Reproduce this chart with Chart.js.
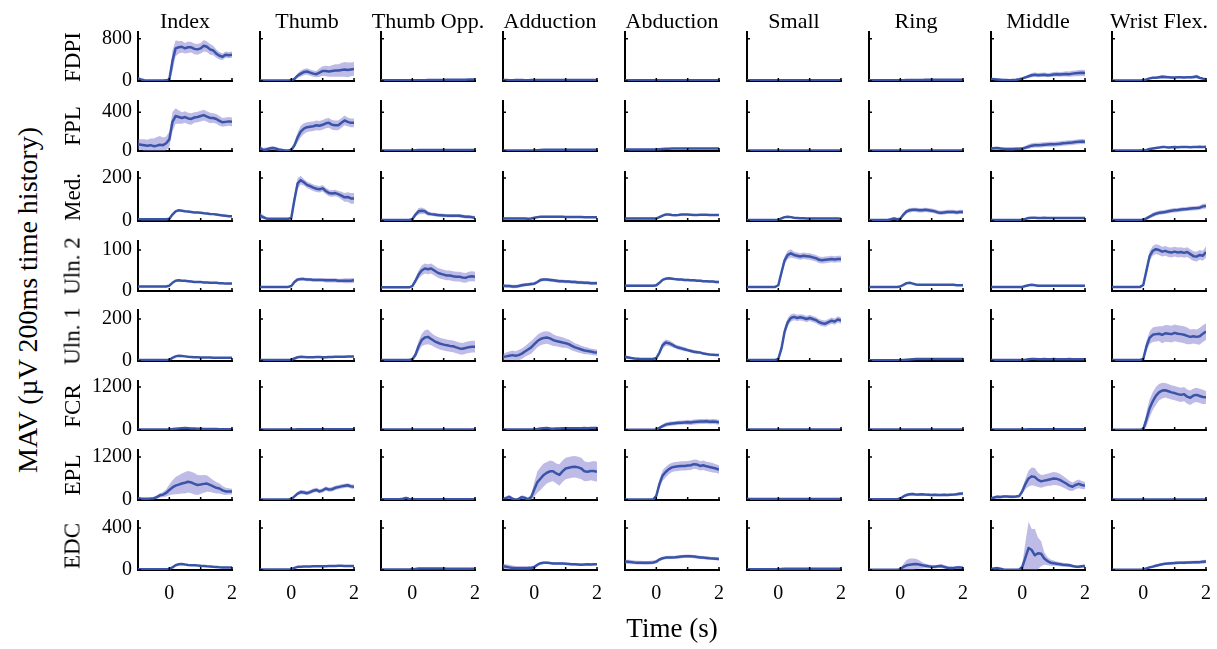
<!DOCTYPE html>
<html>
<head>
<meta charset="utf-8">
<script src="https://cdn.jsdelivr.net/npm/chart.js@4/dist/chart.umd.min.js"></script>
<style>
  html, body { margin: 0; padding: 0; background: #fff; }
  #fig { position: relative; width: 1217px; height: 649px; overflow: hidden;
         font-family: 'Liberation Serif', 'Times New Roman', serif; color: #000; }
  #fig canvas { position: absolute; }
  .lbl { position: absolute; white-space: nowrap; line-height: 1; }
</style>
</head>
<body>
<div id="fig"></div>
<script>
// ---- categories, ticks ----
const TIME = [-1,-0.9,-0.8,-0.7,-0.6,-0.5,-0.4,-0.3,-0.2,-0.1,0,0.1,0.2,0.3,0.4,0.5,0.6,0.7,0.8,0.9,1,1.1,1.2,1.3,1.4,1.5,1.6,1.7,1.8,1.9,2];
const MOVEMENTS = ['Index','Thumb','Thumb Opp.','Adduction','Abduction','Small','Ring','Middle','Wrist Flex.'];
const MUSCLES = ['FDPI','FPL','Med.','Uln. 2','Uln. 1','FCR','EPL','EDC'];
const Y_TICK = [800,400,200,100,200,1200,1200,400];
const Y_MAX = [930,515,228,122,243,1367,1395,467];
const X_TICKS = [0,1,2];

// ---- mean MAV per muscle (one array per movement) ----
const MAV_FDPI = [
  [50,30,15,10,10,10,10,10,10,12,30,380,620,640,650,620,640,640,610,600,620,670,650,600,580,520,480,460,500,490,500],
  [8,8,8,8,8,8,8,8,8,8,12,40,100,140,170,180,160,140,130,160,190,190,180,190,200,200,210,220,210,220,230],
  [12,12,12,12,12,12,12,12,12,12,12,13,14,15,16,17,18,19,20,20,21,22,22,23,24,24,25,26,27,28,30],
  [18,18,16,16,17,18,18,16,16,17,18,18,19,20,19,18,18,18,18,18,18,18,18,18,18,18,18,18,18,17,17],
  [14,14,14,14,14,14,14,14,14,14,14,14,15,15,15,15,15,15,15,15,15,15,15,15,15,15,15,15,15,15,15],
  [12,12,12,12,12,12,12,12,12,12,12,14,15,16,16,16,16,16,16,16,16,16,16,16,16,16,16,16,16,16,16],
  [12,12,12,12,12,12,12,12,12,12,13,15,17,19,20,21,21,21,22,22,22,22,22,22,22,22,22,22,22,22,22],
  [40,35,30,25,20,20,15,20,25,35,50,70,90,110,120,110,115,120,110,115,125,130,125,130,135,130,140,145,150,155,150],
  [10,10,10,10,10,10,10,10,10,10,12,30,50,60,60,70,80,75,70,65,65,70,70,65,70,70,75,85,60,45,35]
];
const MAV_FPL = [
  [70,65,60,55,60,50,55,65,60,80,120,300,360,350,340,350,335,330,345,350,360,370,355,340,340,330,310,295,300,305,300],
  [30,10,15,25,30,25,15,10,5,5,10,60,140,200,230,245,250,255,265,260,270,285,290,270,265,265,290,315,300,290,290],
  [6,6,6,6,6,6,6,6,6,6,6,8,10,11,11,11,11,11,11,11,11,11,11,11,11,11,11,11,11,11,11],
  [6,6,6,6,6,6,6,6,6,6,7,9,11,12,12,12,12,12,12,12,12,12,12,12,12,12,12,12,12,12,12],
  [15,15,15,15,15,15,15,15,15,15,16,18,20,22,24,25,26,26,27,27,27,27,27,26,26,26,26,26,26,26,26],
  [6,6,6,6,6,6,6,6,6,6,6,6,6,6,6,6,6,6,6,6,6,6,6,6,6,6,6,6,6,6,6],
  [6,6,6,6,6,6,6,6,6,6,6,6,6,6,6,6,6,6,6,6,6,6,6,6,6,6,6,6,6,6,6],
  [25,28,30,25,22,20,20,20,22,22,25,35,45,55,60,60,62,65,68,70,70,72,75,80,82,85,88,92,95,98,95],
  [6,6,6,6,6,6,6,6,6,6,6,10,20,25,30,35,42,40,35,38,40,38,40,42,40,38,40,42,45,42,44]
];
const MAV_MED = [
  [8,8,8,8,8,8,8,8,8,8,10,30,45,50,48,45,44,42,40,40,38,36,35,33,32,30,28,26,24,22,22],
  [25,18,12,10,10,10,10,10,10,10,15,100,175,190,180,168,162,155,150,148,152,140,130,128,130,125,118,110,112,105,105],
  [5,5,5,5,5,5,5,5,5,5,8,30,45,48,45,35,32,30,28,27,26,25,25,24,25,24,22,20,20,18,15],
  [12,12,12,12,12,12,12,12,10,12,15,18,20,20,20,20,20,20,20,20,19,19,19,19,19,19,18,18,18,18,18],
  [12,12,12,12,12,12,12,12,12,12,12,18,25,30,30,28,27,28,30,30,30,29,28,28,29,29,29,28,28,28,28],
  [5,5,5,5,5,5,5,5,5,5,6,12,18,20,18,15,14,13,13,12,12,12,12,12,12,12,12,12,12,12,11],
  [5,5,5,5,5,5,5,8,12,8,10,30,45,50,52,52,50,50,52,50,48,45,40,38,40,42,42,42,40,42,42],
  [5,5,5,5,5,5,5,5,5,5,6,10,14,15,15,14,14,15,14,14,14,14,14,14,14,14,14,14,14,14,14],
  [5,5,5,5,5,5,5,5,5,5,6,12,20,28,34,38,40,42,45,48,50,51,53,55,56,58,59,60,62,68,70]
];
const MAV_ULN2 = [
  [11,11,11,11,11,11,11,11,11,11,13,20,25,26,25,25,24,23,22,22,22,21,21,20,20,20,19,19,18,18,18],
  [10,10,10,10,10,10,10,10,10,10,12,22,28,29,29,28,28,27,27,27,27,26,26,26,26,25,25,25,25,25,26],
  [9,9,9,9,9,9,9,9,9,9,12,25,40,50,55,53,55,50,45,42,40,38,38,36,35,35,33,32,35,36,35],
  [13,12,12,11,11,12,14,15,16,17,18,22,27,28,28,27,26,25,24,24,23,23,22,22,21,21,20,20,19,19,19],
  [13,13,13,13,13,13,13,13,13,13,14,20,27,30,31,30,29,28,28,27,27,26,26,25,25,24,24,23,23,22,22],
  [10,10,10,10,10,10,10,10,10,10,14,45,75,88,92,88,86,84,86,85,84,82,80,76,75,76,77,78,77,78,78],
  [10,10,10,10,10,10,10,10,10,10,11,15,19,20,18,16,15,15,15,15,15,15,15,15,15,15,15,15,14,14,14],
  [10,10,10,10,10,10,10,10,10,10,10,12,14,15,14,13,13,13,13,13,13,13,13,13,13,13,13,13,13,13,13],
  [10,10,10,10,10,10,10,10,10,10,15,50,85,98,102,100,96,98,95,94,96,94,95,93,95,90,85,84,88,86,95]
];
const MAV_ULN1 = [
  [5,5,5,5,5,5,5,5,5,5,6,15,22,25,24,22,20,19,18,18,17,17,17,17,16,16,16,16,16,16,16],
  [5,5,5,5,5,5,5,5,5,5,6,12,18,20,19,18,18,18,19,19,18,18,19,19,20,20,20,20,21,21,22],
  [5,5,5,5,5,5,5,5,5,5,8,30,70,100,112,115,105,95,88,82,78,75,72,70,65,60,58,62,66,68,68],
  [20,22,25,28,25,28,35,45,55,65,80,95,105,110,112,108,100,95,92,88,85,80,72,65,60,55,50,48,45,42,40],
  [20,17,14,12,11,10,10,10,10,10,14,40,75,88,85,78,70,64,60,56,52,48,44,42,40,36,33,31,30,29,28],
  [5,5,5,5,5,5,5,5,5,5,10,60,140,185,205,210,205,208,205,200,205,200,195,185,180,178,185,192,188,198,192],
  [4,4,4,4,4,4,4,4,4,4,4,5,6,7,8,9,9,9,9,9,9,9,9,9,9,9,9,9,9,9,9],
  [5,5,5,5,5,5,5,5,5,5,5,6,8,9,9,8,8,9,8,8,9,8,8,8,8,9,8,8,8,8,8],
  [5,5,5,5,5,5,5,5,5,5,10,70,110,125,128,130,125,132,130,128,134,130,128,125,120,115,118,115,118,130,140]
];
const MAV_FCR = [
  [15,15,15,15,15,15,15,15,15,15,18,25,35,45,50,55,50,45,40,35,32,30,28,26,25,25,24,24,24,24,24],
  [15,15,15,15,15,15,15,15,15,15,15,17,18,20,20,20,20,20,20,20,20,20,20,20,20,20,20,20,20,20,20],
  [15,15,15,15,15,15,15,15,15,15,15,15,15,15,15,15,15,15,15,15,15,15,15,15,15,15,15,15,15,15,15],
  [15,15,15,15,15,15,15,15,15,15,15,25,40,50,55,40,35,40,45,50,50,48,50,52,50,52,55,52,55,55,55],
  [10,10,10,10,10,10,10,10,10,10,15,60,110,150,170,180,190,200,205,210,215,210,220,230,240,235,245,230,240,230,215],
  [12,12,12,12,12,12,12,12,12,12,12,12,12,12,12,12,12,12,12,12,12,12,12,12,12,12,12,12,12,12,12],
  [12,12,12,12,12,12,12,12,12,12,12,12,12,12,12,12,12,12,12,12,12,12,12,12,12,12,12,12,12,12,12],
  [12,12,12,12,12,12,12,12,12,12,12,15,18,20,20,20,20,20,20,20,20,20,20,20,20,20,20,20,20,20,20],
  [10,10,10,10,10,10,10,10,10,10,25,300,600,800,950,1050,1100,1110,1080,1050,1030,1000,980,1000,930,900,960,980,950,920,910]
];
const MAV_EPL = [
  [50,40,35,35,40,50,80,130,150,200,280,350,400,430,460,480,510,490,450,420,430,450,460,420,380,340,320,270,240,240,235],
  [15,15,15,15,15,15,15,15,15,15,25,100,180,220,210,190,220,260,280,240,270,320,290,300,340,360,380,395,410,380,370],
  [20,20,20,20,20,20,20,35,60,30,20,20,20,20,20,20,20,20,20,20,20,20,20,20,20,20,20,20,20,20,20],
  [20,60,85,40,10,30,80,60,20,80,300,500,600,700,760,800,800,740,700,800,880,900,920,930,910,880,800,790,810,810,790],
  [15,15,15,15,15,15,15,15,15,15,120,450,680,780,860,910,930,940,950,950,960,970,1000,990,950,970,940,920,900,880,850],
  [35,30,28,25,25,25,25,25,25,25,25,25,27,27,27,27,27,27,27,27,27,27,27,27,27,27,27,27,27,27,27],
  [20,20,20,20,20,20,20,20,20,20,40,100,140,160,165,150,155,160,150,145,140,145,140,140,145,140,145,150,160,175,180],
  [40,70,90,85,95,100,90,90,95,110,250,450,600,660,640,560,520,540,560,580,600,590,560,510,460,400,370,420,450,420,400],
  [15,15,15,15,15,15,15,15,15,15,15,15,15,15,15,15,15,15,15,15,15,15,15,15,15,15,15,15,15,15,15]
];
const MAV_EDC = [
  [8,8,8,8,8,8,8,8,8,8,10,25,45,55,57,52,48,46,45,43,40,38,35,33,30,28,26,25,25,24,24],
  [5,5,5,5,5,5,5,5,5,5,8,20,30,32,33,34,34,35,35,35,35,36,37,38,39,40,40,39,38,37,37],
  [5,5,5,5,5,5,5,5,5,5,6,10,14,15,15,15,15,15,14,14,14,13,13,13,12,12,12,12,12,12,12],
  [35,30,25,20,18,17,17,17,18,20,28,50,65,70,70,66,63,62,63,62,60,58,55,54,52,50,52,54,53,54,55],
  [80,78,75,72,70,70,68,68,70,72,80,100,112,118,120,120,122,125,128,130,132,130,128,124,120,118,115,112,110,108,105],
  [8,8,8,8,8,8,8,8,8,8,8,10,11,12,12,12,12,12,12,12,12,12,12,12,12,12,12,12,12,12,12],
  [3,3,3,3,3,3,3,3,3,3,8,30,45,50,55,58,52,45,40,35,32,30,35,38,30,22,18,20,25,25,20],
  [10,15,18,12,5,3,3,3,3,5,30,120,210,190,140,160,155,110,85,70,65,60,55,50,48,45,38,32,30,35,38],
  [3,3,3,3,3,3,3,3,3,3,5,15,25,32,40,48,55,60,63,65,66,68,70,70,71,72,73,74,75,78,80]
];

// ---- half-width of the shaded band around each mean ----
const SD_FDPI = [
  [20,15,10,5,5,5,5,5,5,8,30,200,150,120,110,100,110,100,100,100,100,110,100,100,90,80,70,60,60,60,60],
  [4,4,4,4,4,4,4,4,4,4,6,20,40,60,60,60,60,60,60,80,90,100,100,110,120,120,130,140,140,130,130],
  [4,4,4,4,4,4,4,4,4,4,4,4,4,4,4,4,4,4,4,4,4,4,4,4,4,4,4,4,4,4,4],
  [4,4,4,4,4,4,4,4,4,4,4,4,4,4,4,4,4,4,4,4,4,4,4,4,4,4,4,4,4,4,4],
  [3,3,3,3,3,3,3,3,3,3,3,3,3,3,3,3,3,3,3,3,3,3,3,3,3,3,3,3,3,3,3],
  [3,3,3,3,3,3,3,3,3,3,3,3,3,3,3,3,3,3,3,3,3,3,3,3,3,3,3,3,3,3,3],
  [4,4,4,4,4,4,4,4,4,4,4,4,4,4,4,4,4,4,4,4,4,4,4,4,4,4,4,4,4,4,4],
  [15,15,15,15,12,12,12,12,15,15,20,25,30,40,40,40,40,40,40,40,45,45,45,45,50,50,55,55,60,60,60],
  [4,4,4,4,4,4,4,4,4,4,4,10,15,20,20,25,35,30,20,20,20,20,20,20,20,25,30,35,25,15,10]
];
const SD_FPL = [
  [50,55,60,60,70,80,90,90,80,70,80,100,80,70,60,60,60,60,55,55,55,55,55,55,50,50,50,45,45,45,45],
  [30,20,20,20,20,20,15,10,5,5,8,30,50,60,55,50,50,50,50,50,50,50,50,50,50,50,50,50,45,45,45],
  [3,3,3,3,3,3,3,3,3,3,3,3,3,3,3,3,3,3,3,3,3,3,3,3,3,3,3,3,3,3,3],
  [3,3,3,3,3,3,3,3,3,3,3,3,3,3,3,3,3,3,3,3,3,3,3,3,3,3,3,3,3,3,3],
  [4,4,4,4,4,4,4,4,4,4,4,4,4,4,4,4,4,4,4,4,4,4,4,4,4,4,4,4,4,4,4],
  [3,3,3,3,3,3,3,3,3,3,3,3,3,3,3,3,3,3,3,3,3,3,3,3,3,3,3,3,3,3,3],
  [3,3,3,3,3,3,3,3,3,3,3,3,3,3,3,3,3,3,3,3,3,3,3,3,3,3,3,3,3,3,3],
  [15,15,15,15,15,15,15,15,15,15,15,20,25,25,25,25,25,25,25,25,25,25,25,25,25,25,25,25,25,25,25],
  [3,3,3,3,3,3,3,3,3,3,3,8,8,8,8,8,8,8,8,8,8,8,8,8,8,8,8,8,8,8,8]
];
const SD_MED = [
  [4,4,4,4,4,4,4,4,4,4,4,4,4,4,4,4,4,4,4,4,4,4,4,4,4,4,4,4,4,4,4],
  [15,10,5,3,3,3,3,3,3,3,5,20,25,20,15,15,15,15,15,15,15,15,15,15,15,15,18,20,22,25,25],
  [3,3,3,3,3,3,3,3,3,3,3,10,15,15,12,10,8,8,8,8,8,8,8,8,8,8,8,8,8,8,8],
  [4,4,4,4,4,4,4,4,4,4,4,4,4,4,4,4,4,4,4,4,4,4,4,4,4,4,4,4,4,4,4],
  [4,4,4,4,4,4,4,4,4,4,4,4,4,4,4,4,4,4,4,4,4,4,4,4,4,4,4,4,4,4,4],
  [3,3,3,3,3,3,3,3,3,3,3,3,3,3,3,3,3,3,3,3,3,3,3,3,3,3,3,3,3,3,3],
  [3,3,3,3,3,3,3,5,6,5,5,10,10,10,10,10,10,10,10,10,10,10,10,10,10,10,10,10,10,10,10],
  [3,3,3,3,3,3,3,3,3,3,3,3,3,3,3,3,3,3,3,3,3,3,3,3,3,3,3,3,3,3,3],
  [3,3,3,3,3,3,3,3,3,3,3,8,8,10,10,10,10,10,10,10,10,10,10,10,10,10,10,10,10,12,12]
];
const SD_ULN2 = [
  [2,2,2,2,2,2,2,2,2,2,2,2,2,2,2,2,2,2,2,2,2,2,2,2,2,2,2,2,2,2,2],
  [2,2,2,2,2,2,2,2,2,2,2,4,4,4,4,4,4,4,4,4,4,5,5,5,5,5,5,6,6,6,6],
  [2,2,2,2,2,2,2,2,2,2,2,6,10,12,12,12,12,12,12,12,12,12,12,12,12,12,12,12,12,12,12],
  [4,4,4,4,4,4,4,4,4,4,4,4,4,4,4,4,4,4,4,4,4,4,4,4,4,4,4,4,4,4,4],
  [3,3,3,3,3,3,3,3,3,3,3,3,3,3,3,3,3,3,3,3,3,3,3,3,3,3,3,3,3,3,3],
  [2,2,2,2,2,2,2,2,2,2,2,8,10,10,10,8,8,8,8,8,8,8,8,8,8,8,8,8,8,8,8],
  [2,2,2,2,2,2,2,2,2,2,2,2,2,2,2,2,2,2,2,2,2,2,2,2,2,2,2,2,2,2,2],
  [2,2,2,2,2,2,2,2,2,2,2,2,2,2,2,2,2,2,2,2,2,2,2,2,2,2,2,2,2,2,2],
  [2,2,2,2,2,2,2,2,2,2,2,10,12,12,12,12,12,12,12,12,12,12,12,12,12,12,12,12,12,12,14]
];
const SD_ULN1 = [
  [3,3,3,3,3,3,3,3,3,3,3,3,3,3,3,3,3,3,3,3,3,3,3,3,3,3,3,3,3,3,3],
  [3,3,3,3,3,3,3,3,3,3,3,3,3,3,3,3,3,3,3,3,3,3,3,3,3,3,3,3,3,3,3],
  [3,3,3,3,3,3,3,3,3,3,5,15,25,30,35,35,30,28,28,28,28,28,28,28,28,28,28,28,28,28,28],
  [15,18,20,22,22,25,25,25,28,30,30,30,30,30,30,30,28,25,25,25,22,22,22,20,20,18,18,16,15,15,15],
  [8,6,5,4,3,3,3,3,3,3,5,12,15,15,14,12,10,10,10,10,8,8,8,8,6,6,6,5,5,5,5],
  [3,3,3,3,3,3,3,3,3,3,3,15,20,20,18,16,15,15,15,15,15,15,15,15,15,15,15,15,15,15,15],
  [2,2,2,2,2,2,2,2,2,2,2,2,2,2,2,2,2,2,2,2,2,2,2,2,2,2,2,2,2,2,2],
  [3,3,3,3,3,3,3,3,3,3,3,3,3,3,3,3,3,3,3,3,3,3,3,3,3,3,3,3,3,3,3],
  [3,3,3,3,3,3,3,3,3,3,5,25,30,35,35,35,40,40,40,40,40,40,40,40,40,35,35,35,40,40,40]
];
const SD_FCR = [
  [10,10,10,10,10,10,10,10,10,10,10,10,10,10,10,10,10,10,10,10,10,10,10,10,10,10,10,10,10,10,10],
  [6,6,6,6,6,6,6,6,6,6,6,6,6,6,6,6,6,6,6,6,6,6,6,6,6,6,6,6,6,6,6],
  [6,6,6,6,6,6,6,6,6,6,6,6,6,6,6,6,6,6,6,6,6,6,6,6,6,6,6,6,6,6,6],
  [6,6,6,6,6,6,6,6,6,6,6,20,20,20,20,20,20,20,20,20,20,20,20,20,20,20,20,20,20,20,20],
  [6,6,6,6,6,6,6,6,6,6,10,40,50,60,60,60,60,60,60,60,70,70,70,70,70,70,70,70,70,70,70],
  [5,5,5,5,5,5,5,5,5,5,5,5,5,5,5,5,5,5,5,5,5,5,5,5,5,5,5,5,5,5,5],
  [5,5,5,5,5,5,5,5,5,5,5,5,5,5,5,5,5,5,5,5,5,5,5,5,5,5,5,5,5,5,5],
  [6,6,6,6,6,6,6,6,6,6,6,6,6,6,6,6,6,6,6,6,6,6,6,6,6,6,6,6,6,6,6],
  [6,6,6,6,6,6,6,6,6,6,20,200,250,250,250,230,220,200,200,200,200,200,200,200,200,200,200,200,200,200,180]
];
const SD_EPL = [
  [20,20,20,20,20,30,50,60,70,100,150,200,240,260,280,300,300,300,300,280,260,250,230,200,180,160,140,120,100,90,80],
  [6,6,6,6,6,6,6,6,6,6,10,40,50,60,60,60,60,60,60,60,60,60,60,60,60,60,60,60,60,60,60],
  [8,8,8,8,8,8,8,15,20,12,8,8,8,8,8,8,8,8,8,8,8,8,8,8,8,8,8,8,8,8,8],
  [30,40,60,40,20,30,50,50,40,80,200,300,320,320,300,300,280,280,300,300,300,300,300,300,300,300,280,260,260,280,280],
  [6,6,6,6,6,6,6,6,6,6,60,120,150,150,140,130,130,130,130,130,130,130,130,130,130,130,130,130,130,120,120],
  [10,10,10,10,10,10,10,10,10,10,10,10,10,10,10,10,10,10,10,10,10,10,10,10,10,10,10,10,10,10,10],
  [10,10,10,10,10,10,10,10,10,10,15,30,40,40,40,40,40,35,35,35,35,35,35,35,35,35,35,35,40,45,45],
  [30,40,40,40,40,40,40,40,40,40,80,150,220,250,250,200,180,170,170,180,180,180,170,160,150,140,120,120,120,110,100],
  [6,6,6,6,6,6,6,6,6,6,6,6,6,6,6,6,6,6,6,6,6,6,6,6,6,6,6,6,6,6,6]
];
const SD_EDC = [
  [5,5,5,5,5,5,5,5,5,5,5,5,5,5,5,5,5,5,5,5,5,5,5,5,5,5,5,5,5,5,5],
  [5,5,5,5,5,5,5,5,5,5,5,5,5,5,5,5,5,5,5,5,5,5,5,5,5,5,5,5,5,5,5],
  [4,4,4,4,4,4,4,4,4,4,4,4,4,4,4,4,4,4,4,4,4,4,4,4,4,4,4,4,4,4,4],
  [25,25,25,22,20,20,20,20,20,18,15,12,12,12,12,12,12,12,12,12,12,12,12,12,12,12,12,12,12,12,12],
  [20,20,20,18,18,18,18,18,18,18,18,15,15,15,15,15,15,15,15,15,15,15,15,15,15,15,15,15,15,15,15],
  [3,3,3,3,3,3,3,3,3,3,3,3,3,3,3,3,3,3,3,3,3,3,3,3,3,3,3,3,3,3,3],
  [2,2,2,2,2,2,2,2,2,2,5,30,50,60,55,50,40,30,20,18,15,15,15,18,18,15,12,12,12,15,15],
  [5,10,10,8,5,3,3,3,3,5,30,150,250,200,250,150,120,60,40,30,25,22,20,20,18,16,15,14,14,14,14],
  [2,2,2,2,2,2,2,2,2,2,2,8,10,12,12,12,12,12,14,14,14,14,14,15,15,15,15,16,16,18,18]
];

const MEAN = [MAV_FDPI, MAV_FPL, MAV_MED, MAV_ULN2, MAV_ULN1, MAV_FCR, MAV_EPL, MAV_EDC];
const SPREAD = [SD_FDPI, SD_FPL, SD_MED, SD_ULN2, SD_ULN1, SD_FCR, SD_EPL, SD_EDC];

// ---- grid geometry (plot-area edges in page pixels) ----
const COL_LEFT = [138, 260, 381, 503, 625, 747, 869, 991, 1112];
const PLOT_W = 94;
const ROW_TOP = [32, 101, 172, 241, 310, 381, 450, 521];
const ROW_ZERO = [81, 151, 221, 291, 361, 430, 500, 570];
const PAD_L = 60, PAD_T = 22, PAD_R = 24, X_AXIS_H = 40;

const LINE_COLOR = '#3a55a8';
const BAND_COLOR = 'rgba(120,112,205,0.48)';
const SERIF = "'Liberation Serif', 'Times New Roman', serif";
const TICK_FONT = { family: SERIF, size: 20 };

const fig = document.getElementById('fig');

// small inward tick marks on both axes
const tickNubs = {
  id: 'tickNubs',
  afterDatasetsDraw(chart) {
    const { ctx, chartArea: a, scales: { x, y } } = chart;
    ctx.save();
    ctx.strokeStyle = '#000';
    ctx.lineWidth = 1.5;
    ctx.beginPath();
    x.ticks.forEach(t => {
      const px = x.getPixelForValue(t.value);
      ctx.moveTo(px, a.bottom); ctx.lineTo(px, a.bottom - 3);
    });
    y.ticks.forEach(t => {
      const py = y.getPixelForValue(t.value);
      ctx.moveTo(a.left, py); ctx.lineTo(a.left + 3, py);
    });
    ctx.stroke();
    ctx.restore();
  }
};

function addText(text, css) {
  const d = document.createElement('div');
  d.className = 'lbl';
  d.textContent = text;
  Object.assign(d.style, css);
  fig.appendChild(d);
  return d;
}

const lastRow = MUSCLES.length - 1;

MUSCLES.forEach((muscle, r) => {
  const h = ROW_ZERO[r] - ROW_TOP[r];
  MOVEMENTS.forEach((mv, c) => {
    const W = PAD_L + PLOT_W + PAD_R, H = PAD_T + h + X_AXIS_H;
    const cv = document.createElement('canvas');
    cv.width = W; cv.height = H;
    cv.style.width = W + 'px'; cv.style.height = H + 'px';
    cv.style.left = (COL_LEFT[c] - PAD_L) + 'px';
    cv.style.top = (ROW_TOP[r] - PAD_T) + 'px';
    fig.appendChild(cv);

    const mean = MEAN[r][c], sd = SPREAD[r][c];
    const upper = TIME.map((t, i) => ({ x: t, y: mean[i] + sd[i] }));
    const lower = TIME.map((t, i) => ({ x: t, y: mean[i] - sd[i] }));
    const line = TIME.map((t, i) => ({ x: t, y: mean[i] }));

    new Chart(cv, {
      type: 'line',
      data: {
        datasets: [
          // shaded band (upper edge filled down to the lower edge), drawn beneath the mean
          { data: upper, order: 2, borderWidth: 0, borderColor: 'transparent', pointRadius: 0,
            backgroundColor: BAND_COLOR, fill: '+1' },
          { data: lower, order: 2, borderWidth: 0, borderColor: 'transparent', pointRadius: 0, fill: false },
          // mean trace on top
          { data: line, order: 0, borderColor: LINE_COLOR, borderWidth: 2.5, pointRadius: 0, fill: false,
            borderJoinStyle: 'round' }
        ]
      },
      options: {
        responsive: false,
        animation: false,
        devicePixelRatio: 1,
        events: [],
        layout: { padding: { left: 0, top: PAD_T, right: PAD_R, bottom: 0 } },
        plugins: { legend: { display: false }, tooltip: { enabled: false } },
        scales: {
          x: {
            type: 'linear', min: -1, max: 2,
            afterBuildTicks: s => { s.ticks = X_TICKS.map(v => ({ value: v })); },
            afterFit: s => { s.height = X_AXIS_H; },
            grid: { display: false, drawTicks: false },
            border: { display: true, color: '#000', width: 2 },
            ticks: { display: r === lastRow, padding: 12, font: TICK_FONT, color: '#000',
                     maxRotation: 0, autoSkip: false,
                     callback: v => (v === 1 ? '' : String(v)) }
          },
          y: {
            type: 'linear', min: 0, max: Y_MAX[r],
            afterBuildTicks: s => { s.ticks = [0, Y_TICK[r]].map(v => ({ value: v })); },
            afterFit: s => { s.width = PAD_L; },
            grid: { display: false, drawTicks: false },
            border: { display: true, color: '#000', width: 2 },
            ticks: { display: c === 0, padding: 6, font: TICK_FONT, color: '#000',
                     callback: v => String(v) }
          }
        }
      },
      plugins: [tickNubs]
    });
  });

  // muscle name beside each row
  const cy = (ROW_TOP[r] + ROW_ZERO[r]) / 2;
  addText(muscle, { left: '72px', top: cy + 'px', fontSize: '23px',
                    transform: 'translate(-50%,-50%) rotate(-90deg)' });
});

// movement names above each column
MOVEMENTS.forEach((mv, c) => {
  addText(mv, { left: (COL_LEFT[c] + PLOT_W / 2) + 'px', top: '10px', fontSize: '22px',
                transform: 'translateX(-50%)' });
});

// shared axis titles
addText('MAV (µV 200ms time history)', { left: '28px', top: '300px', fontSize: '28px',
        transform: 'translate(-50%,-50%) rotate(-90deg)' });
addText('Time (s)', { left: '672px', top: '615px', fontSize: '27px', transform: 'translateX(-50%)' });
</script>
</body>
</html>
